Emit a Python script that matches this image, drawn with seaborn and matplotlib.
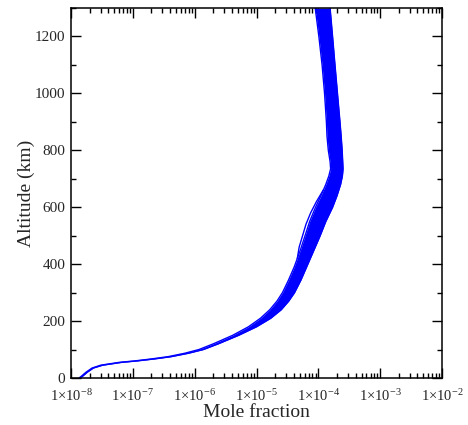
import matplotlib
matplotlib.use("Agg")
import matplotlib.pyplot as plt
import matplotlib.ticker as mticker
import seaborn as sns
import pandas as pd
import numpy as np

# Altitude grid (km)
altitude = [0, 5, 20, 35, 45, 55, 60, 67, 75, 87, 100, 120, 150, 180, 210, 240, 270,
            300, 345, 390, 450, 500, 550, 600, 640, 680, 710, 735, 760, 800, 850, 900,
            1000, 1100, 1200, 1300]
# Left (low) edge of the ensemble of profiles (mole fraction)
mf_low = [1.35e-8, 1.45e-8, 1.74e-8, 2.19e-8, 3.02e-8, 6.03e-8, 1.07e-7, 2.00e-7,
          3.72e-7, 6.92e-7, 1.17e-6, 2.00e-6, 4.12e-6, 7.41e-6, 1.16e-5, 1.64e-5,
          2.14e-5, 2.63e-5, 3.31e-5, 4.07e-5, 5.13e-5, 6.10e-5, 7.24e-5, 9.02e-5,
          1.10e-4, 1.32e-4, 1.48e-4, 1.58e-4, 1.55e-4, 1.45e-4, 1.38e-4, 1.35e-4,
          1.26e-4, 1.15e-4, 1.02e-4, 8.9e-5]
# Right (high) edge of the ensemble of profiles (mole fraction)
mf_high = [1.38e-8, 1.51e-8, 1.82e-8, 2.29e-8, 3.24e-8, 6.61e-8, 1.17e-7, 2.24e-7,
           4.17e-7, 7.94e-7, 1.38e-6, 2.40e-6, 5.13e-6, 1.00e-5, 1.70e-5, 2.51e-5,
           3.31e-5, 4.12e-5, 5.25e-5, 6.46e-5, 8.51e-5, 1.07e-4, 1.32e-4, 1.70e-4,
           2.00e-4, 2.29e-4, 2.45e-4, 2.51e-4, 2.48e-4, 2.43e-4, 2.34e-4, 2.24e-4,
           2.04e-4, 1.86e-4, 1.70e-4, 1.55e-4]
# A single slightly-detached profile in the middle atmosphere
outlier_alt = [420, 460, 500, 540, 580, 620, 660]
outlier_mf = [4.57e-5, 4.90e-5, 5.56e-5, 6.31e-5, 7.50e-5, 9.33e-5, 1.20e-4]

xtick_exponents = [-8, -7, -6, -5, -4, -3, -2]
ytick_values = [0, 200, 400, 600, 800, 1000, 1200]

sns.set_style("ticks")
plt.rcParams['font.family'] = ['Liberation Serif', 'DejaVu Serif']
plt.rcParams['mathtext.fontset'] = 'custom'
plt.rcParams['mathtext.rm'] = 'Liberation Serif'
plt.rcParams['mathtext.it'] = 'Liberation Serif:italic'

fig = plt.figure(figsize=(4.68, 4.25), dpi=100)
ax = fig.add_axes([71/468, 47/425, (442-71)/468, (378-8)/425])

blue = "#0000ff"
df = pd.concat([
    pd.DataFrame({"alt": altitude, "mf": mf_low, "profile": "low"}),
    pd.DataFrame({"alt": altitude, "mf": mf_high, "profile": "high"}),
    pd.DataFrame({"alt": outlier_alt, "mf": outlier_mf, "profile": "outlier"}),
])
ax.fill_betweenx(altitude, mf_low, mf_high, color=blue, lw=0)
sns.lineplot(data=df, x="mf", y="alt", hue="profile", orient="y", sort=False,
             estimator=None, palette=[blue, blue, blue], legend=False, lw=1.0, ax=ax)

ax.set_xscale("log")
ax.set_xlim(1e-8, 1e-2)
ax.set_ylim(0, 1300)
ax.set_xticks([10.0**e for e in xtick_exponents])
ax.set_xticklabels([r"1$\times$10$^{%d}$" % e for e in xtick_exponents])
ax.xaxis.set_minor_locator(mticker.LogLocator(base=10, subs=np.arange(2, 10)))
ax.xaxis.set_minor_formatter(mticker.NullFormatter())
ax.set_yticks(ytick_values)
ax.yaxis.set_minor_locator(mticker.MultipleLocator(100))

ax.tick_params(which="both", direction="in", top=True, right=True, color="black", width=1.0)
ax.tick_params(which="major", length=7)
ax.tick_params(which="minor", length=3.5)
ax.tick_params(axis="y", which="major", labelsize=11, pad=4)
ax.tick_params(axis="x", which="major", labelsize=10.5, pad=7)
for s in ax.spines.values():
    s.set_linewidth(1.1)
    s.set_color("black")

ax.set_xlabel("Mole fraction", fontsize=14, labelpad=0)
ax.set_ylabel("Altitude (km)", fontsize=14, labelpad=0)

fig.savefig("out.png", dpi=100)
